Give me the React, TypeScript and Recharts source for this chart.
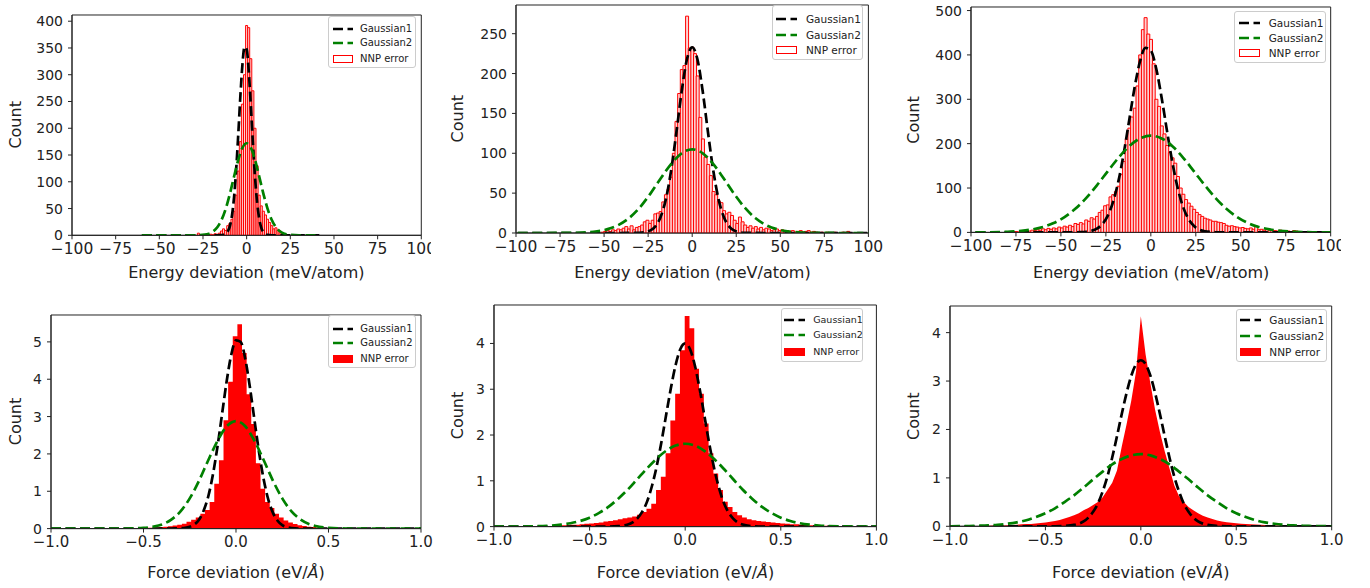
import React from 'react';
import { ComposedChart, Bar, Area, Line, XAxis, YAxis, ReferenceArea, Legend } from 'recharts';

type Pair = [number, number];
type Row = { x: number; hist?: number; g1?: number; g2?: number };

const FONT = '"DejaVu Sans", Verdana, sans-serif';
const INK = '#222222';
const RED = '#ff0000';
const GREEN = '#008000';

const legendNames = ['Gaussian1', 'Gaussian2', 'NNP error'];

// axis ticks
const energyTicks = [-100, -75, -50, -25, 0, 25, 50, 75, 100];
const forceTicks = [-1, -0.5, 0, 0.5, 1];
const e1YTicks = [0, 50, 100, 150, 200, 250, 300, 350, 400];
const e2YTicks = [0, 50, 100, 150, 200, 250];
const e3YTicks = [0, 100, 200, 300, 400, 500];
const f4YTicks = [0, 1, 2, 3, 4, 5];
const f5YTicks = [0, 1, 2, 3, 4];
const f6YTicks = [0, 1, 2, 3, 4];
const yMaxes = [411.6, 286, 508, 5.72, 4.84, 4.55];

// histograms: centre of first bin, bin width, counts
const e1Start = -27.6;
const e1Width = 1.2;
const e1Counts = [
  4, 0, 0, 1, 0, 1, 2, 1, 3, 2,
  4, 8, 12, 9, 18, 22, 30, 45, 75, 120,
  175, 245, 300, 392, 388, 330, 270, 200, 130, 75,
  55, 45, 38, 30, 24, 18, 12, 14, 10, 8,
  4, 2, 1,
];

const e2Start = -55.5;
const e2Width = 1.5;
const e2Counts = [
  2, 1, 0, 1, 2, 3, 2, 4, 3, 5,
  4, 6, 8, 5, 9, 4, 7, 8, 10, 14,
  16, 12, 16, 24, 25, 27, 39, 48, 55, 70,
  100, 140, 175, 205, 210, 272, 232, 233, 225, 197,
  145, 118, 95, 86, 72, 52, 48, 40, 38, 28,
  24, 26, 22, 16, 12, 20, 14, 10, 7, 9,
  6, 8, 5, 7, 4, 6, 5, 3, 4, 5,
  3, 4, 2, 3, 2, 3, 1, 2, 3, 1,
  2, 3, 1, 2, 1, 0, 1, 0, 1, 0,
  0, 1, 0, 0, 1, 0, 2,
];

const e3Start = -75;
const e3Width = 1.5;
const e3Counts = [
  2, 1, 3, 2, 4, 3, 5, 4, 6, 5,
  8, 6, 9, 7, 10, 8, 12, 10, 14, 12,
  16, 13, 20, 18, 22, 19, 28, 25, 33, 30,
  36, 45, 50, 60, 62, 80, 85, 92, 104, 130,
  160, 210, 235, 260, 280, 330, 400, 457, 484, 447,
  435, 380, 300, 284, 240, 222, 196, 180, 168, 156,
  126, 100, 86, 74, 66, 59, 52, 45, 40, 36,
  32, 30, 28, 25, 25, 23, 22, 20, 16, 14,
  15, 13, 12, 10, 11, 9, 8, 10, 7, 14,
  6, 7, 5, 6, 4, 5, 4, 3, 5, 3,
  4, 3, 2, 4, 3, 2, 1, 2, 1, 1,
  1,
];

const f4Start = -0.505;
const f4Width = 0.025;
const f4Counts = [
  0.01, 0.02, 0.02, 0.03, 0.04, 0.05, 0.06, 0.08, 0.1, 0.13,
  0.18, 0.24, 0.3, 0.4, 0.5, 0.71, 1.2, 1.83, 2.9, 3.93,
  5.15, 5.47, 4.7, 3.6, 2.8, 1.75, 1.07, 0.71, 0.55, 0.4,
  0.3, 0.22, 0.16, 0.12, 0.09, 0.07, 0.05, 0.04, 0.03, 0.02,
  0.01,
];

const f5Start = -0.69;
const f5Width = 0.025;
const f5Counts = [
  0.02, 0.02, 0.03, 0.03, 0.04, 0.04, 0.05, 0.06, 0.07, 0.08,
  0.09, 0.11, 0.12, 0.14, 0.16, 0.18, 0.2, 0.22, 0.26, 0.32,
  0.39, 0.5, 0.8, 1.09, 1.6, 2.32, 2.9, 3.85, 4.6, 4.33,
  3.45, 2.9, 2.25, 1.6, 1.16, 0.8, 0.54, 0.43, 0.32, 0.25,
  0.2, 0.16, 0.14, 0.12, 0.11, 0.1, 0.09, 0.08, 0.07, 0.06,
  0.05, 0.05, 0.04, 0.03, 0.03, 0.02, 0.02, 0.02, 0.01, 0.01,
  0.01,
];

const f6Start = -0.9;
const f6Width = 0.025;
const f6Counts = [
  0.005, 0.006, 0.008, 0.01, 0.012, 0.014, 0.016, 0.019, 0.024, 0.028,
  0.033, 0.04, 0.045, 0.05, 0.06, 0.07, 0.08, 0.095, 0.11, 0.13,
  0.16, 0.19, 0.23, 0.27, 0.33, 0.38, 0.44, 0.5, 0.6, 0.75,
  0.9, 1.15, 1.65, 2.1, 2.6, 3.2, 4.34, 3.55, 2.95, 2.4,
  1.95, 1.55, 1.2, 0.85, 0.62, 0.5, 0.4, 0.33, 0.27, 0.22,
  0.18, 0.15, 0.12, 0.1, 0.085, 0.075, 0.065, 0.055, 0.048, 0.042,
  0.036, 0.03, 0.026, 0.022, 0.018, 0.015, 0.012, 0.01, 0.008, 0.006,
  0.005, 0.004, 0.003,
];

// fitted gaussians: [x, count]
const e1Gauss1: Pair[] = [
  [-60, 0], [-45.6, 0], [-30, 0], [-24, 0], [-19.2, 0], [-16.8, 0], [-14.4, 0.3], [-13.2, 0.9],
  [-12, 2.7], [-10.8, 7.2], [-9.6, 17.3], [-8.4, 37.1], [-7.2, 71.3], [-6, 122.6], [-4.8, 188.5],
  [-3.6, 259.5], [-2.4, 319.6], [-1.2, 352.2], [0, 347.4], [1.2, 306.6], [2.4, 242.1], [3.6, 171.1],
  [4.8, 108.2], [6, 61.2], [7.2, 31], [8.4, 14], [9.6, 5.7], [10.8, 2.1], [12, 0.7], [13.2, 0.2],
  [14.4, 0], [16.8, 0], [24, 0], [30, 0], [42, 0],
];
const e1Gauss2: Pair[] = [
  [-60, 0], [-45.6, 0], [-30, 0.1], [-24, 1.2], [-21.6, 3], [-19.2, 7.1], [-16.8, 14.9], [-14.4, 28.6],
  [-12, 49.4], [-9.6, 77.5], [-7.2, 109.8], [-4.8, 140.9], [-2.4, 163.6], [0, 172], [2.4, 163.6],
  [4.8, 140.9], [7.2, 109.8], [9.6, 77.5], [12, 49.4], [14.4, 28.6], [16.8, 14.9], [19.2, 7.1],
  [21.6, 3], [24, 1.2], [30, 0.1], [36, 0], [42, 0],
];
const e2Gauss1: Pair[] = [
  [-99, 0], [-75, 0], [-51, 0], [-42, 0], [-36, 0.05], [-33, 0.1], [-30, 0.25], [-27, 0.9], [-24, 2.9],
  [-21, 8.1], [-18, 19.7], [-15, 41.9], [-12, 77.8], [-9, 125.7], [-6, 177.1], [-3, 217.6], [0, 233],
  [3, 217.6], [6, 177.1], [9, 125.7], [12, 77.8], [15, 41.9], [18, 19.7], [21, 8.1], [24, 2.9],
  [27, 0.9], [30, 0.25], [33, 0.1], [36, 0.05], [42, 0], [51, 0], [75, 0], [100.5, 0],
];
const e2Gauss2: Pair[] = [
  [-99, 0], [-90, 0.01], [-75, 0.05], [-66, 0.3], [-60, 0.8], [-54, 2.1], [-48, 4.8], [-42, 9.8],
  [-36, 18.4], [-30, 31.4], [-24, 48.5], [-18, 68], [-12, 86.5], [-6, 100], [0, 105], [6, 100],
  [12, 86.5], [18, 68], [24, 48.5], [30, 31.4], [36, 18.4], [42, 9.8], [48, 4.8], [54, 2.1],
  [60, 0.8], [66, 0.3], [75, 0.05], [90, 0.01], [100.5, 0],
];
const e3Gauss1: Pair[] = [
  [-97.5, 0], [-75, 0], [-60, 0], [-48, 0], [-42, 0.1], [-39, 0.4], [-36, 1.3], [-33, 3.4], [-30, 8.3],
  [-27, 18.4], [-24, 37.2], [-21, 68.8], [-18, 116.2], [-15, 179.6], [-12, 253.5], [-9, 327.2],
  [-6, 385.9], [-3, 416], [0, 409.7], [3, 368.9], [6, 303.5], [9, 228.3], [12, 156.9], [15, 98.5],
  [18, 56.6], [21, 29.7], [24, 14.2], [27, 6.2], [30, 2.5], [33, 0.9], [36, 0.3], [39, 0.1],
  [45, 0], [60, 0], [75, 0], [100.5, 0],
];
const e3Gauss2: Pair[] = [
  [-97.5, 0.1], [-90, 0.3], [-84, 0.8], [-78, 1.7], [-72, 3.4], [-66, 6.7], [-60, 12.2], [-54, 21.2],
  [-48, 34.5], [-42, 53.2], [-36, 77.3], [-30, 106.1], [-24, 137.5], [-18, 168.2], [-12, 194.3],
  [-6, 211.8], [0, 218], [6, 211.8], [12, 194.3], [18, 168.2], [24, 137.5], [30, 106.1], [36, 77.3],
  [42, 53.2], [48, 34.5], [54, 21.2], [60, 12.2], [66, 6.7], [72, 3.4], [78, 1.7], [84, 0.8],
  [90, 0.3], [96, 0.1], [100.5, 0.05],
];
const f4Gauss1: Pair[] = [
  [-1, 0], [-0.8, 0], [-0.6, 0], [-0.4, 0], [-0.35, 0], [-0.3, 0.01], [-0.275, 0.02], [-0.25, 0.05],
  [-0.225, 0.11], [-0.2, 0.24], [-0.175, 0.48], [-0.15, 0.86], [-0.125, 1.44], [-0.1, 2.2],
  [-0.075, 3.08], [-0.05, 3.96], [-0.025, 4.67], [0, 5.04], [0.025, 5.0], [0.05, 4.55], [0.075, 3.79],
  [0.1, 2.9], [0.125, 2.03], [0.15, 1.31], [0.175, 0.77], [0.2, 0.42], [0.225, 0.21], [0.25, 0.09],
  [0.275, 0.04], [0.3, 0.015], [0.35, 0], [0.4, 0], [0.6, 0], [0.8, 0], [1, 0],
];
const f4Gauss2: Pair[] = [
  [-1, 0], [-0.8, 0], [-0.6, 0.002], [-0.5, 0.018], [-0.45, 0.05], [-0.4, 0.11], [-0.35, 0.24],
  [-0.3, 0.46], [-0.25, 0.81], [-0.2, 1.28], [-0.15, 1.83], [-0.1, 2.35], [-0.05, 2.74], [0, 2.88],
  [0.05, 2.74], [0.1, 2.35], [0.15, 1.83], [0.2, 1.28], [0.25, 0.81], [0.3, 0.46], [0.35, 0.24],
  [0.4, 0.11], [0.45, 0.05], [0.5, 0.018], [0.6, 0.002], [0.8, 0], [1, 0],
];
const f5Gauss1: Pair[] = [
  [-1, 0], [-0.8, 0], [-0.6, 0], [-0.4, 0], [-0.35, 0.01], [-0.3, 0.044], [-0.275, 0.09], [-0.25, 0.18],
  [-0.225, 0.32], [-0.2, 0.54], [-0.175, 0.87], [-0.15, 1.3], [-0.125, 1.83], [-0.1, 2.43],
  [-0.075, 3.02], [-0.05, 3.53], [-0.025, 3.88], [0, 4.0], [0.025, 3.88], [0.05, 3.53], [0.075, 3.02],
  [0.1, 2.43], [0.125, 1.83], [0.15, 1.3], [0.175, 0.87], [0.2, 0.54], [0.225, 0.32], [0.25, 0.18],
  [0.275, 0.09], [0.3, 0.044], [0.35, 0.01], [0.4, 0], [0.6, 0], [0.8, 0], [1, 0],
];
const f5Gauss2: Pair[] = [
  [-1, 0], [-0.9, 0.001], [-0.8, 0.006], [-0.7, 0.023], [-0.65, 0.042], [-0.6, 0.073], [-0.55, 0.122],
  [-0.5, 0.195], [-0.45, 0.3], [-0.4, 0.435], [-0.35, 0.61], [-0.3, 0.81], [-0.25, 1.04], [-0.2, 1.27],
  [-0.15, 1.48], [-0.1, 1.656], [-0.05, 1.77], [0, 1.81], [0.05, 1.77], [0.1, 1.656], [0.15, 1.48],
  [0.2, 1.27], [0.25, 1.04], [0.3, 0.81], [0.35, 0.61], [0.4, 0.435], [0.45, 0.3], [0.5, 0.195],
  [0.55, 0.122], [0.6, 0.073], [0.65, 0.042], [0.7, 0.023], [0.8, 0.006], [0.9, 0.001], [1, 0],
];
const f6Gauss1: Pair[] = [
  [-1, 0], [-0.8, 0], [-0.6, 0], [-0.45, 0], [-0.4, 0.0065], [-0.35, 0.028], [-0.325, 0.055], [-0.3, 0.1],
  [-0.275, 0.18], [-0.25, 0.3], [-0.225, 0.47], [-0.2, 0.72], [-0.175, 1.03], [-0.15, 1.42],
  [-0.125, 1.86], [-0.1, 2.32], [-0.075, 2.75], [-0.05, 3.11], [-0.025, 3.35], [0, 3.43], [0.025, 3.35],
  [0.05, 3.11], [0.075, 2.75], [0.1, 2.32], [0.125, 1.86], [0.15, 1.42], [0.175, 1.03], [0.2, 0.72],
  [0.225, 0.47], [0.25, 0.3], [0.275, 0.18], [0.3, 0.1], [0.325, 0.055], [0.35, 0.028], [0.4, 0.0065],
  [0.45, 0], [0.6, 0], [0.8, 0], [1, 0],
];
const f6Gauss2: Pair[] = [
  [-1, 0.001], [-0.95, 0.003], [-0.9, 0.006], [-0.85, 0.011], [-0.8, 0.018], [-0.75, 0.031], [-0.7, 0.052],
  [-0.65, 0.082], [-0.6, 0.126], [-0.55, 0.19], [-0.5, 0.27], [-0.45, 0.37], [-0.4, 0.5], [-0.35, 0.64],
  [-0.3, 0.8], [-0.25, 0.97], [-0.2, 1.13], [-0.15, 1.28], [-0.1, 1.39], [-0.05, 1.465], [0, 1.49],
  [0.05, 1.465], [0.1, 1.39], [0.15, 1.28], [0.2, 1.13], [0.25, 0.97], [0.3, 0.8], [0.35, 0.64],
  [0.4, 0.5], [0.45, 0.37], [0.5, 0.27], [0.55, 0.19], [0.6, 0.126], [0.65, 0.082], [0.7, 0.052],
  [0.75, 0.031], [0.8, 0.018], [0.85, 0.011], [0.9, 0.006], [0.95, 0.003], [1, 0.001],
];

const roundX = (v: number) => Math.round(v * 10000) / 10000;

const histPairs = (start: number, width: number, counts: number[]): Pair[] =>
  counts.map((c, i) => [roundX(start + i * width), c]);

// one table per panel, one row per x value (no duplicate x, so bar widths come out right)
function buildRows(hist: Pair[], g1: Pair[], g2: Pair[]): Row[] {
  const map = new Map<string, Row>();
  const put = (pairs: Pair[], key: 'hist' | 'g1' | 'g2') => {
    pairs.forEach(([x, y]) => {
      const xv = roundX(x);
      const k = xv.toFixed(4);
      const row = map.get(k) ?? { x: xv };
      row[key] = y;
      map.set(k, row);
    });
  };
  put(hist, 'hist');
  put(g1, 'g1');
  put(g2, 'g2');
  return Array.from(map.values()).sort((a, b) => a.x - b.x);
}

const fmtEnergy = (v: number) => (v < 0 ? `\u2212${Math.abs(v)}` : `${v}`);
const fmtForce = (v: number) => (v < 0 ? `\u2212${Math.abs(v).toFixed(1)}` : v.toFixed(1));

type LegendCfg = { x: number; y: number; w: number; h: number; rows: number[]; font: number; sx: number; tx: number; sw: number };

type PanelCfg = {
  rows: Row[];
  kind: 'bar' | 'step' | 'linear';
  xDomain: [number, number];
  xTicks: number[];
  xFmt: (v: number) => string;
  xFont: number;
  yTicks: number[];
  yMax: number;
  box: { l: number; t: number; r: number; b: number };
  padRight: number;
  legend: LegendCfg;
  title: string;
  titleBase: number;
  countX: number;
};

const YW = 48;
const DASH = '10 4.5';
const LW = 2.7;

const LegendBox = ({ cfg, filled }: { cfg: LegendCfg; filled: boolean }) => (
  <div
    style={{
      position: 'relative',
      width: cfg.w,
      height: cfg.h,
      boxSizing: 'border-box',
      border: '1px solid #cccccc',
      borderRadius: 3,
      background: 'rgba(255,255,255,0.85)',
      fontFamily: FONT,
      fontSize: cfg.font,
      color: INK,
    }}
  >
    {legendNames.map((name, i) => {
      const top = cfg.rows[i] - cfg.y - 7;
      return (
        <div key={name} style={{ position: 'absolute', left: 0, top, height: 14, width: cfg.w }}>
          <svg width={cfg.sw} height={14} style={{ position: 'absolute', left: cfg.sx, top: 0 }}>
            {i < 2 ? (
              <line x1={0} x2={cfg.sw} y1={7} y2={7} stroke={i === 0 ? '#000' : GREEN} strokeWidth={LW} strokeDasharray={DASH} />
            ) : (
              <rect x={0.5} y={3.5} width={cfg.sw - 1} height={7} fill={filled ? RED : '#fff'} stroke={RED} strokeWidth={1} />
            )}
          </svg>
          <span style={{ position: 'absolute', left: cfg.tx, top: 0, lineHeight: '14px', whiteSpace: 'nowrap' }}>{name}</span>
        </div>
      );
    })}
  </div>
);

const Panel = ({ p }: { p: PanelCfg }) => {
  const { l, t, r, b } = p.box;
  const chartLeft = l - YW;
  const chartTop = t - 10;
  const width = r - l + YW + p.padRight;
  const height = b - t + 10 + 60;
  const filled = p.kind !== 'bar';
  return (
    <div style={{ position: 'absolute', left: chartLeft, top: chartTop }}>
      <ComposedChart
        width={width}
        height={height}
        data={p.rows}
        margin={{ top: 10, right: p.padRight, left: 0, bottom: 0 }}
        barCategoryGap={0}
        barGap={0}
      >
        <XAxis
          dataKey="x"
          type="number"
          domain={p.xDomain}
          ticks={p.xTicks}
          interval={0}
          allowDataOverflow
          tickFormatter={p.xFmt}
          height={60}
          tickSize={4}
          tickMargin={4}
          tick={{ fill: INK, fontSize: p.xFont, fontFamily: FONT }}
          tickLine={{ stroke: INK }}
          axisLine={{ stroke: INK }}
        />
        <YAxis
          type="number"
          domain={[0, p.yMax]}
          ticks={p.yTicks}
          interval={0}
          allowDataOverflow
          width={YW}
          tickSize={4}
          tickMargin={5}
          tick={{ fill: INK, fontSize: 14, fontFamily: FONT }}
          tickLine={{ stroke: INK }}
          axisLine={{ stroke: INK }}
        />
        {p.kind === 'bar' ? (
          <Bar dataKey="hist" fill="#ffd2d2" stroke={RED} strokeWidth={1} isAnimationActive={false} />
        ) : (
          <Area
            dataKey="hist"
            type={p.kind === 'step' ? 'step' : 'linear'}
            fill={RED}
            fillOpacity={1}
            stroke="none"
            connectNulls
            isAnimationActive={false}
          />
        )}
        <Line dataKey="g1" type="monotone" stroke="#000000" strokeWidth={LW} strokeDasharray={DASH} dot={false} activeDot={false} connectNulls isAnimationActive={false} />
        <Line dataKey="g2" type="monotone" stroke={GREEN} strokeWidth={LW} strokeDasharray={DASH} dot={false} activeDot={false} connectNulls isAnimationActive={false} />
        <ReferenceArea x1={p.xDomain[0]} x2={p.xDomain[1]} y1={0} y2={p.yMax} fill="none" stroke={INK} strokeWidth={1} ifOverflow="visible" />
        <Legend
          layout="vertical"
          align="center"
          verticalAlign="middle"
          wrapperStyle={{ left: p.legend.x - chartLeft, top: p.legend.y - chartTop, width: p.legend.w, height: p.legend.h }}
          content={() => <LegendBox cfg={p.legend} filled={filled} />}
        />
      </ComposedChart>
    </div>
  );
};

const panels: PanelCfg[] = [
  {
    rows: buildRows(histPairs(e1Start, e1Width, e1Counts), e1Gauss1, e1Gauss2),
    kind: 'bar', xDomain: [-100, 100], xTicks: energyTicks, xFmt: fmtEnergy, xFont: 15.5, yTicks: e1YTicks, yMax: yMaxes[0],
    box: { l: 71.7, t: 14.7, r: 421, b: 235 }, padRight: 10,
    legend: { x: 328, y: 16, w: 88, h: 52, rows: [27.7, 42.3, 57.7], font: 10, sx: 4, tx: 31, sw: 20 },
    title: 'Energy deviation (meV/atom)', titleBase: 277.7, countX: 15.8,
  },
  {
    rows: buildRows(histPairs(e2Start, e2Width, e2Counts), e2Gauss1, e2Gauss2),
    kind: 'bar', xDomain: [-100, 100], xTicks: energyTicks, xFmt: fmtEnergy, xFont: 15.5, yTicks: e2YTicks, yMax: yMaxes[1],
    box: { l: 516.3, t: 4.7, r: 868.7, b: 232.7 }, padRight: 22,
    legend: { x: 771.7, y: 5, w: 91.6, h: 55, rows: [18.3, 34, 49.3], font: 10.5, sx: 3.3, tx: 33.3, sw: 21 },
    title: 'Energy deviation (meV/atom)', titleBase: 277.7, countX: 457.5,
  },
  {
    rows: buildRows(histPairs(e3Start, e3Width, e3Counts), e3Gauss1, e3Gauss2),
    kind: 'bar', xDomain: [-100, 100], xTicks: energyTicks, xFmt: fmtEnergy, xFont: 15.5, yTicks: e3YTicks, yMax: yMaxes[2],
    box: { l: 971.3, t: 7.3, r: 1331, b: 232.7 }, padRight: 10,
    legend: { x: 1234.3, y: 11, w: 91.4, h: 52, rows: [21.7, 36.7, 52.3], font: 10.5, sx: 4, tx: 33.4, sw: 21 },
    title: 'Energy deviation (meV/atom)', titleBase: 278.3, countX: 913.3,
  },
  {
    rows: buildRows(histPairs(f4Start, f4Width, f4Counts), f4Gauss1, f4Gauss2),
    kind: 'step', xDomain: [-1, 1], xTicks: forceTicks, xFmt: fmtForce, xFont: 15, yTicks: f4YTicks, yMax: yMaxes[3],
    box: { l: 51, t: 314.7, r: 421, b: 528.3 }, padRight: 16,
    legend: { x: 328.3, y: 315.5, w: 87.7, h: 52.8, rows: [327.7, 342.3, 357.7], font: 10, sx: 4, tx: 31, sw: 20 },
    title: 'Force deviation (eV/', titleBase: 578.3, countX: 15,
  },
  {
    rows: buildRows(histPairs(f5Start, f5Width, f5Counts), f5Gauss1, f5Gauss2),
    kind: 'step', xDomain: [-1, 1], xTicks: forceTicks, xFmt: fmtForce, xFont: 15, yTicks: f5YTicks, yMax: yMaxes[4],
    box: { l: 494.3, t: 304.7, r: 876.7, b: 526.3 }, padRight: 16,
    legend: { x: 780.7, y: 308, w: 82, h: 54, rows: [319, 334.3, 350.7], font: 9.5, sx: 2.6, tx: 31.5, sw: 21 },
    title: 'Force deviation (eV/', titleBase: 577.7, countX: 457.5,
  },
  {
    rows: buildRows(histPairs(f6Start, f6Width, f6Counts), f6Gauss1, f6Gauss2),
    kind: 'linear', xDomain: [-1, 1], xTicks: forceTicks, xFmt: fmtForce, xFont: 15, yTicks: f6YTicks, yMax: yMaxes[5],
    box: { l: 950, t: 306, r: 1331.7, b: 526.3 }, padRight: 16,
    legend: { x: 1235.7, y: 308.5, w: 91, h: 53, rows: [319.3, 335, 350.7], font: 10.5, sx: 3.6, tx: 32.6, sw: 21 },
    title: 'Force deviation (eV/', titleBase: 578.3, countX: 913.3,
  },
];

export default function App() {
  return (
    <div style={{ position: 'absolute', left: 0, top: 0, width: 1370, height: 588, background: '#ffffff', overflow: 'hidden' }}>
      {panels.map((p, i) => (
        <Panel key={i} p={p} />
      ))}
      <svg width={1370} height={588} style={{ position: 'absolute', left: 0, top: 0, pointerEvents: 'none' }}>
        {panels.map((p, i) => {
          const cx = (p.box.l + p.box.r) / 2;
          const cy = (p.box.t + p.box.b) / 2;
          const isForce = p.kind !== 'bar';
          return (
            <g key={i} fontFamily={FONT} fontSize={16} fill={INK}>
              <text x={cx} y={p.titleBase} textAnchor="middle">
                {p.title}
                {isForce ? (
                  <>
                    <tspan fontStyle="italic">Å</tspan>
                    <tspan>)</tspan>
                  </>
                ) : null}
              </text>
              <text x={p.countX} y={cy} textAnchor="middle" dominantBaseline="central" transform={`rotate(-90 ${p.countX} ${cy})`}>
                Count
              </text>
            </g>
          );
        })}
      </svg>
    </div>
  );
}
